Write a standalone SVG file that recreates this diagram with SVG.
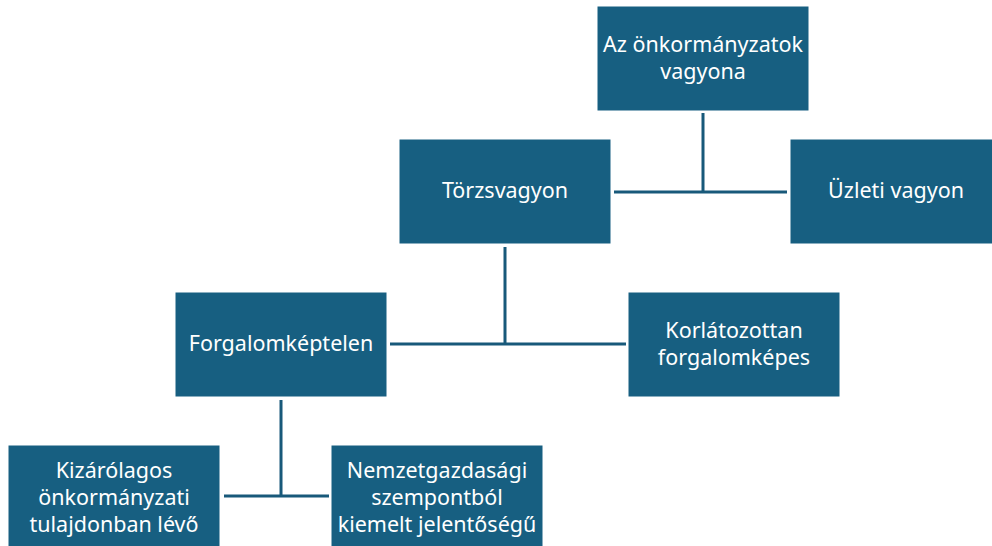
<svg xmlns="http://www.w3.org/2000/svg" width="992" height="546" viewBox="0 0 992 546">
<style>
.box{fill:#175F81;stroke:#ffffff;stroke-width:1}
.t{font-family:"Noto Sans","Liberation Sans",sans-serif;font-size:21.5px;fill:#ffffff;text-anchor:middle}
.c{stroke:#18597A;stroke-width:3;fill:none}
</style>
<rect width="992" height="546" fill="#ffffff"/>
<g id="connectors">
<path class="c" d="M703,113V192M614,192H787"/>
<path class="c" d="M505,247V344M390,344H626"/>
<path class="c" d="M281,400V496M224,496H329"/>
</g>
<g id="n1"><rect class="box" x="597" y="6" width="212" height="105"/><text class="t" x="703" y="52">Az önkormányzatok</text><text class="t" x="703" y="79">vagyona</text></g>
<g id="n2"><rect class="box" x="399" y="139" width="212" height="105"/><text class="t" x="505" y="198">Törzsvagyon</text></g>
<g id="n3"><rect class="box" x="790" y="139" width="212" height="105"/><text class="t" x="896" y="198">Üzleti vagyon</text></g>
<g id="n4"><rect class="box" x="175" y="292" width="212" height="105"/><text class="t" x="281" y="351">Forgalomképtelen</text></g>
<g id="n5"><rect class="box" x="628" y="292" width="212" height="105"/><text class="t" x="734" y="338">Korlátozottan</text><text class="t" x="734" y="365">forgalomképes</text></g>
<g id="n6"><rect class="box" x="8" y="445" width="212" height="105"/><text class="t" x="114" y="478">Kizárólagos</text><text class="t" x="114" y="505">önkormányzati</text><text class="t" x="114" y="532">tulajdonban lévő</text></g>
<g id="n7"><rect class="box" x="331" y="445" width="212" height="105"/><text class="t" x="437" y="478">Nemzetgazdasági</text><text class="t" x="437" y="505">szempontból</text><text class="t" x="437" y="532">kiemelt jelentőségű</text></g>
</svg>
